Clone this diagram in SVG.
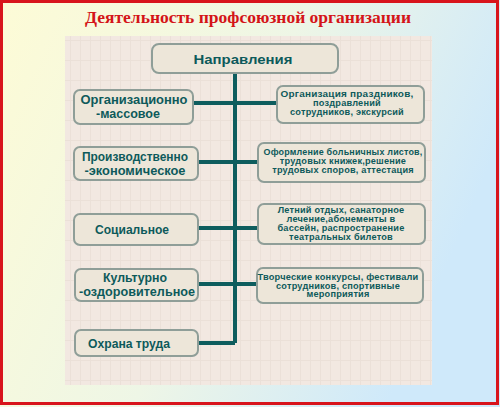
<svg xmlns="http://www.w3.org/2000/svg" width="500" height="407" viewBox="0 0 500 407">
<defs>
<linearGradient id="bg" x1="0" y1="0" x2="1" y2="0.35">
<stop offset="0" stop-color="#fdfbd6"/>
<stop offset="0.55" stop-color="#eef6e6"/>
<stop offset="1" stop-color="#cfe9fa"/>
</linearGradient>
<pattern id="grid" width="10" height="20" patternUnits="userSpaceOnUse">
<rect width="10" height="20" fill="#f2e8e1"/>
<path d="M0 0.5H10M0.5 0V20" stroke="#ebe0d8" stroke-width="1"/>
</pattern>
<style>
.box{fill:#ede6d9;stroke:#8f9e98;stroke-width:2}
.conn{stroke:#0e5d5e;stroke-width:4;fill:none}
.lt{font-family:"Liberation Sans",Arial,sans-serif;font-weight:bold;fill:#0d5a5b;text-anchor:middle;font-size:13.5px}
.rt{font-family:"Liberation Sans",Arial,sans-serif;font-weight:bold;fill:#0d5a5b;text-anchor:middle;font-size:9.2px;letter-spacing:0.2px}
</style>
</defs>
<rect x="0" y="0" width="500" height="407" fill="url(#bg)"/>
<rect x="1.5" y="1.5" width="496" height="402" fill="none" stroke="#d8141c" stroke-width="3"/>
<text x="248" y="23" font-family="Liberation Serif,Times New Roman,serif" font-weight="bold" font-size="17.5" fill="#d41418" text-anchor="middle">Деятельность профсоюзной организации</text>
<rect x="65" y="36" width="367" height="349" fill="url(#grid)"/>
<g id="connectors">
<path class="conn" d="M235 73V343"/>
<path class="conn" d="M193 103H277"/>
<path class="conn" d="M198 162H258"/>
<path class="conn" d="M198 228H258"/>
<path class="conn" d="M198 284H258"/>
<path class="conn" d="M198 343H235"/>
</g>
<g id="n-main">
<rect class="box" x="152" y="44" width="186" height="29" rx="7"/>
<text class="lt" x="243" y="64" font-size="15" textLength="99" lengthAdjust="spacingAndGlyphs">Направления</text>
</g>
<g id="n-org">
<rect class="box" x="74" y="90" width="119" height="34" rx="6"/>
<text class="lt" x="134" y="104" textLength="107" lengthAdjust="spacingAndGlyphs">Организационно</text>
<text class="lt" x="128" y="118" textLength="64" lengthAdjust="spacingAndGlyphs">-массовое</text>
</g>
<g id="n-prod">
<rect class="box" x="74" y="147" width="124" height="33" rx="6"/>
<text class="lt" x="135" y="161" textLength="106" lengthAdjust="spacingAndGlyphs">Производственно</text>
<text class="lt" x="135" y="175" textLength="101" lengthAdjust="spacingAndGlyphs">-экономическое</text>
</g>
<g id="n-soc">
<rect class="box" x="74" y="214" width="124" height="31" rx="6"/>
<text class="lt" x="132" y="234" textLength="74" lengthAdjust="spacingAndGlyphs">Социальное</text>
</g>
<g id="n-cult">
<rect class="box" x="75" y="269" width="123" height="32" rx="6"/>
<text class="lt" x="135" y="282" font-size="12.5" textLength="64" lengthAdjust="spacingAndGlyphs">Культурно</text>
<text class="lt" x="137" y="296" font-size="12.5" textLength="116" lengthAdjust="spacingAndGlyphs">-оздоровительное</text>
</g>
<g id="n-ohr">
<rect class="box" x="75" y="330" width="123" height="26" rx="6"/>
<text class="lt" x="129" y="348" textLength="82" lengthAdjust="spacingAndGlyphs">Охрана труда</text>
</g>
<g id="r1">
<rect class="box" x="277" y="86" width="147" height="37" rx="6"/>
<text class="rt" x="347" y="97" textLength="133" lengthAdjust="spacingAndGlyphs">Организация праздников,</text>
<text class="rt" x="347" y="106">поздравлений</text>
<text class="rt" x="347" y="115">сотрудников, экскурсий</text>
</g>
<g id="r2">
<rect class="box" x="258" y="143" width="167" height="39" rx="6"/>
<text class="rt" x="343" y="155" textLength="159" lengthAdjust="spacingAndGlyphs">Оформление больничных листов,</text>
<text class="rt" x="343" y="164">трудовых книжек,решение</text>
<text class="rt" x="343" y="173">трудовых споров, аттестация</text>
</g>
<g id="r3">
<rect class="box" x="258" y="204" width="167" height="40" rx="6"/>
<text class="rt" x="341" y="213">Летний отдых, санаторное</text>
<text class="rt" x="341" y="222">лечение,абонементы в</text>
<text class="rt" x="341" y="231">бассейн, распространение</text>
<text class="rt" x="341" y="240">театральных билетов</text>
</g>
<g id="r4">
<rect class="box" x="257" y="268" width="166" height="35" rx="6"/>
<text class="rt" x="338" y="280" textLength="161" lengthAdjust="spacingAndGlyphs">Творческие конкурсы, фестивали</text>
<text class="rt" x="338" y="288.5">сотрудников,  спортивные</text>
<text class="rt" x="338" y="297">мероприятия</text>
</g>
</svg>
